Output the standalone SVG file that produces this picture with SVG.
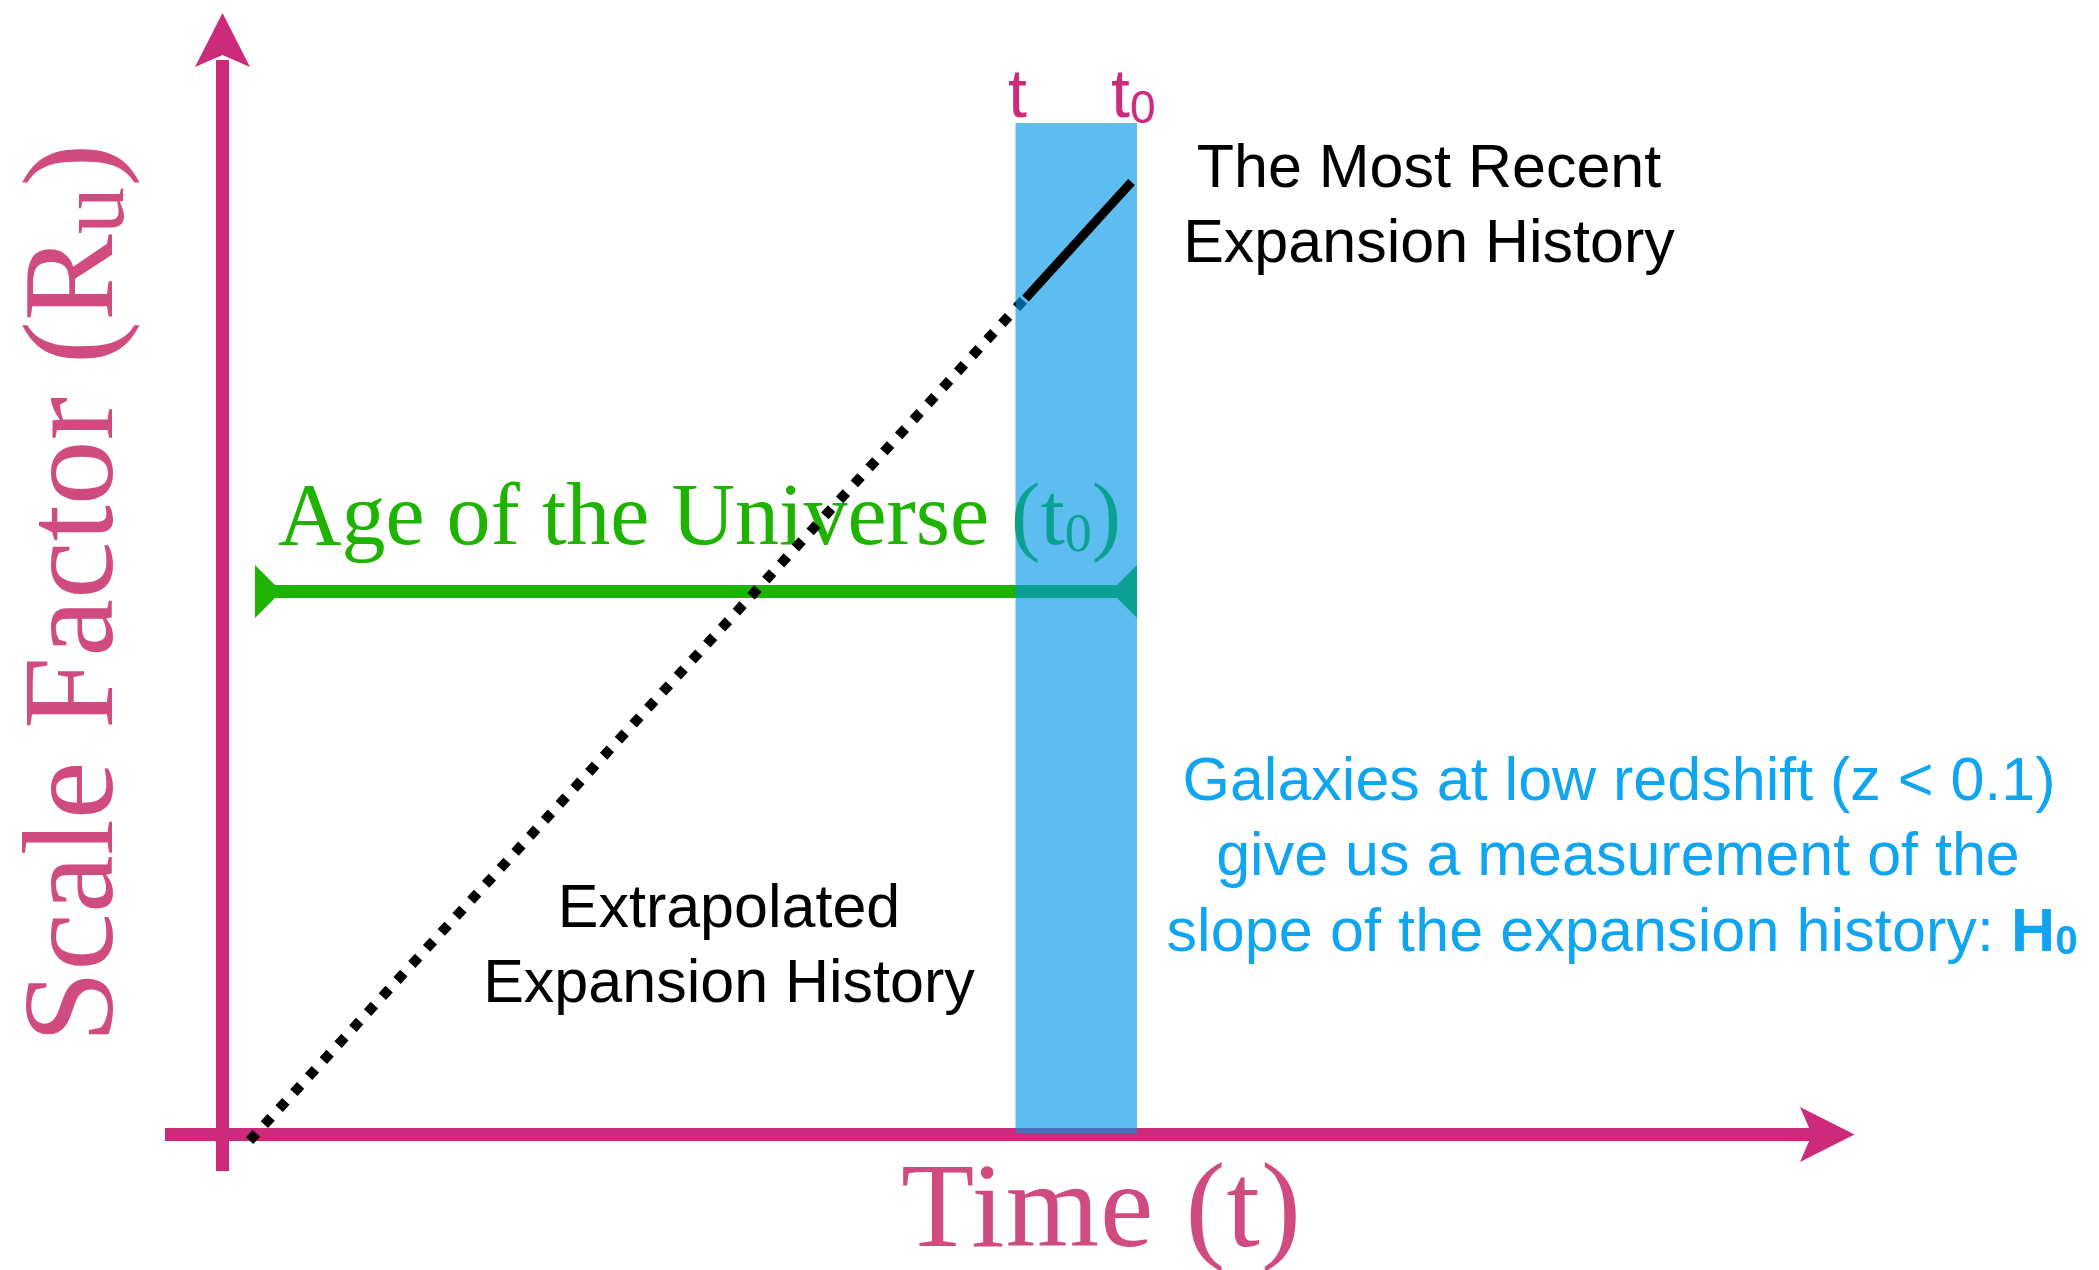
<svg xmlns="http://www.w3.org/2000/svg" width="2099" height="1270" viewBox="0 0 2099 1270">
  <style>
    .axis { stroke: #CC2A7B; stroke-width: 13; fill: none; }
    .axishead { fill: #CC2A7B; }
    .axlabel { font-family: "Liberation Serif", "DejaVu Serif", serif; fill: #D04B7F; }
    .tlabel { font-family: "Liberation Sans", Arial, sans-serif; fill: #CC2A7B; font-size: 68px; }
    .black { font-family: "Liberation Sans", Arial, sans-serif; fill: #000000; font-size: 61px; text-anchor: middle; }
    .blue { font-family: "Liberation Sans", Arial, sans-serif; fill: #11A5F0; font-size: 61px; text-anchor: middle; }
    .green { font-family: "Liberation Serif", "DejaVu Serif", serif; fill: #1EB300; font-size: 88px; }
  </style>
  <rect x="0" y="0" width="2099" height="1270" fill="#FFFFFF"/>

  <g id="axes">
    <line class="axis" x1="222.5" y1="60" x2="222.5" y2="1171"/>
    <polygon class="axishead" points="222.5,13 250,67 222.5,55 195,67"/>
    <line class="axis" x1="165" y1="1134.5" x2="1815" y2="1134.5"/>
    <polygon class="axishead" points="1854.5,1134.5 1800,1107 1812,1134.5 1800,1162"/>
  </g>

  <g id="age-of-universe">
    <line x1="262" y1="591.5" x2="1130" y2="591.5" stroke="#1EB300" stroke-width="13"/>
    <polygon points="255,565 255,618 281.5,591.5" fill="#1EB300"/>
    <polygon points="1137,565 1137,618 1110.5,591.5" fill="#1EB300"/>
    <text class="green" x="278" y="544">Age of the Universe (t<tspan font-size="54" dy="7">0</tspan><tspan dy="-7">)</tspan></text>
  </g>

  <g id="connectors">
    <path id="extrapolated-line" d="M249.6,1140.7 L1023.4,300.3" stroke="#000000" stroke-width="10" stroke-dasharray="10 11.775" fill="none"/>
  </g>

  <g id="recent-window">
    <rect x="1015.5" y="123" width="121.5" height="1010" fill="rgb(0,150,231)" fill-opacity="0.63"/>
    <text class="tlabel" x="1008" y="117">t</text>
    <text class="tlabel" x="1111" y="117">t<tspan font-size="46" dy="6">0</tspan></text>
  </g>

  <g id="recent-line">
    <line x1="1025.5" y1="298.5" x2="1131.5" y2="182" stroke="#000000" stroke-width="9"/>
  </g>

  <g id="label-recent">
    <text class="black" x="1429" y="187">The Most Recent</text>
    <text class="black" x="1429" y="262">Expansion History</text>
  </g>

  <g id="label-extrapolated">
    <text class="black" x="729" y="927">Extrapolated</text>
    <text class="black" x="729" y="1002">Expansion History</text>
  </g>

  <g id="label-galaxies">
    <text class="blue" x="1619" y="800">Galaxies at low redshift (z &lt; 0.1)</text>
    <text class="blue" x="1618" y="875">give us a measurement of the</text>
    <text class="blue" x="1622" y="951" textLength="911">slope of the expansion history: <tspan font-weight="bold">H<tspan font-size="40" dy="3">0</tspan></tspan></text>
  </g>

  <g id="axis-labels">
    <text class="axlabel" font-size="120" x="901" y="1246" textLength="400">Time (t)</text>
    <text class="axlabel" font-size="130" transform="translate(112,1043) rotate(-90)" x="0" y="0">Scale Factor (R<tspan font-size="95" dy="11">u</tspan><tspan dy="-11">)</tspan></text>
  </g>
</svg>
